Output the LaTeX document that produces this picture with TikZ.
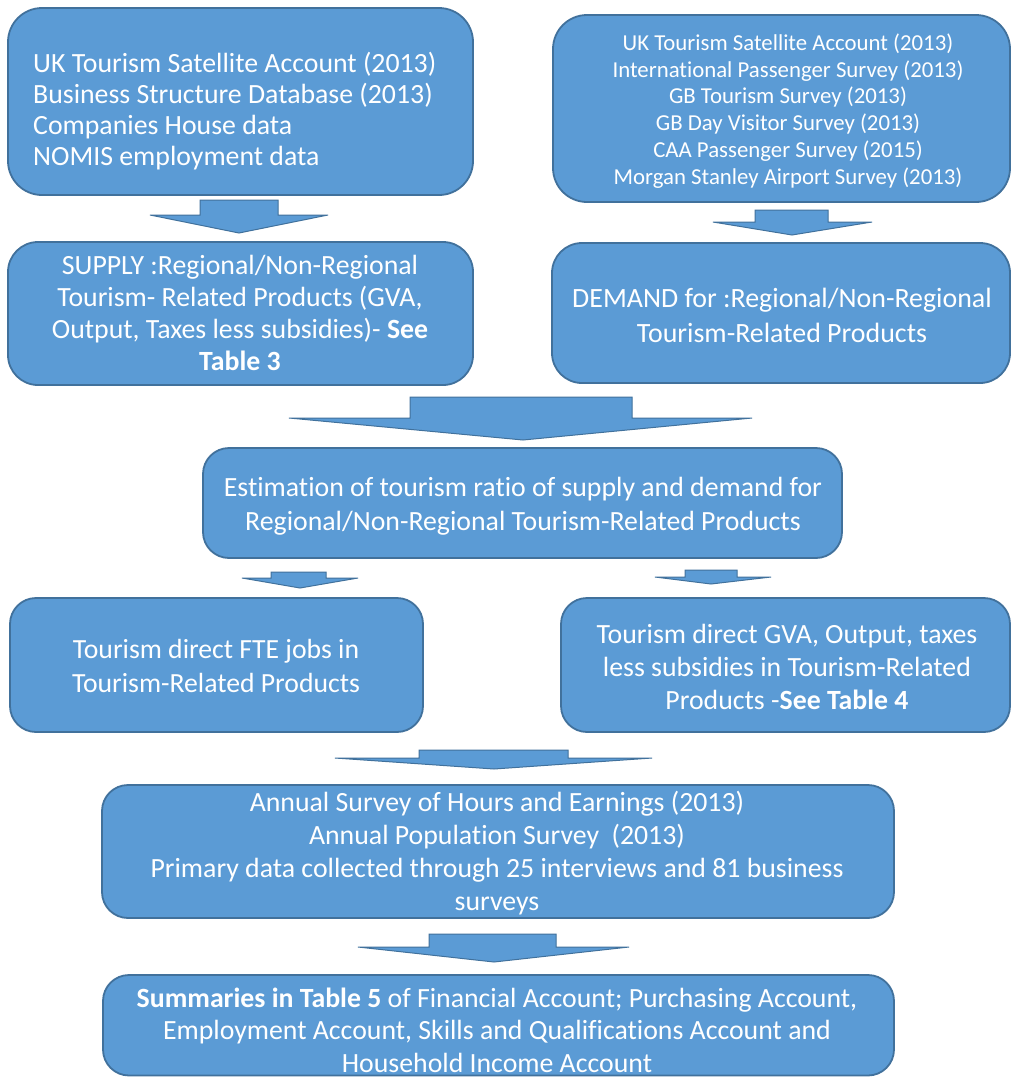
\documentclass[tikz,border=0pt]{standalone}
\usepackage{fontspec}
\setmainfont[Ligatures={NoCommon}]{Carlito}
\definecolor{boxfill}{HTML}{5B9BD5}
\definecolor{boxline}{HTML}{41719C}
\newcommand{\blockarr}[8]{\draw[barrow] (#1,#3) -- (#2,#3) -- (#2,#4) -- (#6,#4) -- (#7,#8) -- (#5,#4) -- (#1,#4) -- cycle;}
\begin{document}
\begin{tikzpicture}[x=1pt,y=-1pt,
  box/.style={draw=boxline, fill=boxfill, line width=1.8pt, rounded corners=#1},
  box/.default=30pt,
  txt/.style={text=white, align=center, inner sep=0pt},
  barrow/.style={fill=boxfill, draw=boxline, line width=1pt, line join=miter}]
\useasboundingbox (0,0) rectangle (1012,1077);
\clip (0,0) rectangle (1012,1077);
\fill[white] (0,0) rectangle (1012,1077);
% boxes
\path[box=34pt] (8,8) rectangle (473,195);
\node[txt, anchor=west, align=left, font=\fontsize{27.8}{31}\selectfont] (a) at (33,111)
 {UK Tourism Satellite Account (2013)\\Business Structure Database (2013)\\Companies House data\\NOMIS employment data};
\path[box] (8,242) rectangle (473,385);
\node[txt, font=\fontsize{27.8}{32}\selectfont] (b) at (240,313)
 {SUPPLY :Regional/Non-Regional\\Tourism- Related Products (GVA,\\Output, Taxes less subsidies)- \textbf{See}\\\textbf{Table 3}};
\path[box=34pt] (553,15) rectangle (1010,202);
\node[txt, font=\fontsize{22.8}{26.8}\selectfont] (c) at (788,111)
 {UK Tourism Satellite Account (2013)\\International Passenger Survey (2013)\\GB Tourism Survey (2013)\\GB Day Visitor Survey (2013)\\CAA Passenger Survey (2015)\\Morgan Stanley Airport Survey (2013)};
\path[box] (552,243) rectangle (1010,383);
\node[txt, font=\fontsize{27.9}{35}\selectfont] (d) at (782,315)
 {DEMAND for :Regional/Non-Regional\\Tourism-Related Products};
\path[box=26pt] (203,448) rectangle (842,558);
\node[txt, font=\fontsize{27.8}{34}\selectfont] (e) at (523,506)
 {Estimation of tourism ratio of supply and demand for\\Regional/Non-Regional Tourism-Related Products};
\path[box=26pt] (10,598) rectangle (423,732);
\node[txt, font=\fontsize{27.7}{34}\selectfont] (f) at (216,666)
 {Tourism direct FTE jobs in\\Tourism-Related Products};
\path[box=26pt] (561,598) rectangle (1010,732);
\node[txt, font=\fontsize{27.8}{33}\selectfont] (g) at (787,667)
 {Tourism direct GVA, Output, taxes\\less subsidies in Tourism-Related\\Products -\textbf{See Table 4}};
\path[box=26pt] (102,785) rectangle (894,918);
\node[txt, font=\fontsize{27.8}{33}\selectfont] (h) at (497,853)
 {Annual Survey of Hours and Earnings (2013)\\Annual Population Survey\ \ (2013)\\Primary data collected through 25 interviews and 81 business\\surveys};
\path[box=26pt] (103,975) rectangle (894,1075.5);
\node[txt, font=\fontsize{27.8}{32.5}\selectfont] (i) at (497,1030)
 {\textbf{Summaries in Table 5} of Financial Account; Purchasing Account,\\Employment Account, Skills and Qualifications Account and\\Household Income Account};
% block arrows
\blockarr{200}{278}{200}{215}{150}{328}{239}{233}
\blockarr{755}{828}{210}{222}{713}{872}{792}{235}
\blockarr{410}{632}{397}{418}{289}{752}{523}{440}
\blockarr{271}{326}{572}{578}{242}{358}{300}{588}
\blockarr{685}{737}{570}{577}{655}{771}{711}{584}
\blockarr{419}{568}{750}{758}{335}{652}{494}{769}
\blockarr{429}{556}{934}{947}{358}{629}{494}{962}
\end{tikzpicture}
\end{document}
